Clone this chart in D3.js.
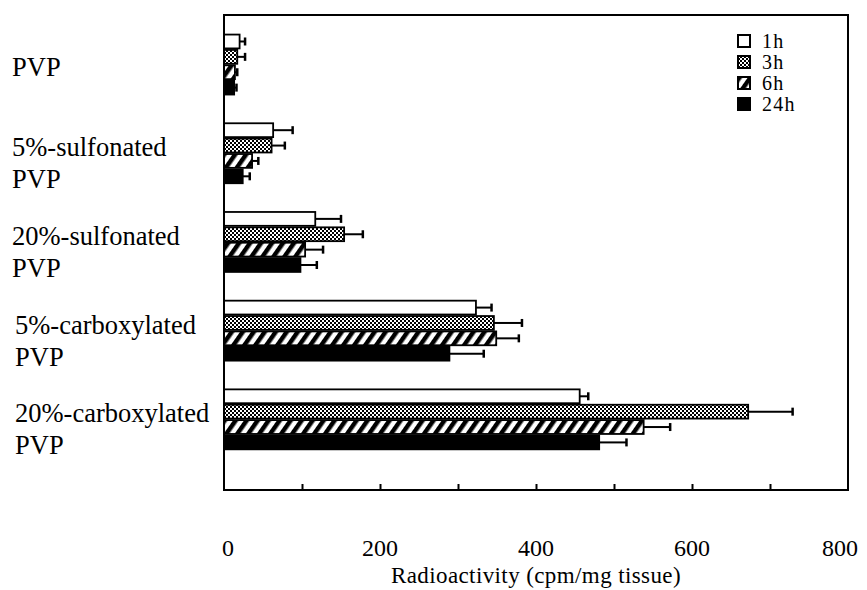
<!DOCTYPE html>
<html>
<head>
<meta charset="utf-8">
<script src="https://cdn.jsdelivr.net/npm/d3@7"></script>
<style>
  html, body { margin: 0; padding: 0; background: #fff; }
  svg { display: block; }
  text { font-family: "Liberation Serif", "DejaVu Serif", serif; fill: #000; }
</style>
</head>
<body>
<svg id="chart" width="867" height="590"></svg>
<script>
// ---- data ----
const categories = ["PVP", "5%-sulfonated PVP", "20%-sulfonated PVP", "5%-carboxylated PVP", "20%-carboxylated PVP"];
const categoryLines = [["PVP"], ["5%-sulfonated", "PVP"], ["20%-sulfonated", "PVP"], ["5%-carboxylated", "PVP"], ["20%-carboxylated", "PVP"]];
const series = ["1h", "3h", "6h", "24h"];
const values1h  = [20, 63, 117, 323, 456];
const values3h  = [17, 61, 154, 346, 672];
const values6h  = [14, 36, 104, 349, 538];
const values24h = [13, 24, 98, 289, 481];
const err1h  = [7, 25, 33, 20, 11];
const err3h  = [10, 17, 24, 36, 57];
const err6h  = [3, 8, 23, 29, 34];
const err24h = [3, 9, 21, 44, 35];
const xTicks = [0, 200, 400, 600, 800];
const xMinorTicks = [100, 200, 300, 400, 500, 600, 700];
const xTitle = "Radioactivity (cpm/mg tissue)";

const valuesBySeries = [values1h, values3h, values6h, values24h];
const errBySeries = [err1h, err3h, err6h, err24h];

const rows = [];
categories.forEach((c, i) => {
  series.forEach((s, j) => {
    rows.push({ cat: c, ser: s, v: valuesBySeries[j][i], e: errBySeries[j][i] });
  });
});

// ---- layout ----
const svg = d3.select("#chart");
const frame = { left: 224, right: 848, top: 15, bottom: 490 };

const x = d3.scaleLinear().domain([0, 800]).range([frame.left, frame.right]);
const y = d3.scaleBand().domain(categories).range([20.2, 463.7]).paddingInner(0.324).paddingOuter(0.162);
const ys = d3.scaleBand().domain(series).range([0, y.bandwidth()]).paddingInner(0.1);

// ---- patterns ----
const defs = svg.append("defs");
const p3 = defs.append("pattern").attr("id", "pat3h").attr("patternUnits", "userSpaceOnUse")
  .attr("width", 4).attr("height", 4);
p3.append("rect").attr("width", 4).attr("height", 4).attr("fill", "#fff");
p3.append("rect").attr("x", 0).attr("y", 0).attr("width", 2).attr("height", 2).attr("fill", "#000");
p3.append("rect").attr("x", 2).attr("y", 2).attr("width", 2).attr("height", 2).attr("fill", "#000");
p3.append("rect").attr("x", 1).attr("y", 1).attr("width", 1).attr("height", 1).attr("fill", "#000");

const p6 = defs.append("pattern").attr("id", "pat6h").attr("patternUnits", "userSpaceOnUse")
  .attr("width", 9).attr("height", 9).attr("patternTransform", "rotate(35)");
p6.append("rect").attr("width", 9).attr("height", 9).attr("fill", "#fff");
p6.append("rect").attr("x", 0).attr("y", 0).attr("width", 4.5).attr("height", 9).attr("fill", "#000");

const fills = { "1h": "#fff", "3h": "url(#pat3h)", "6h": "url(#pat6h)", "24h": "#000" };

// ---- bars ----
const g = svg.append("g");
g.selectAll("rect.bar").data(rows).join("rect")
  .attr("class", "bar")
  .attr("x", x(0))
  .attr("y", d => y(d.cat) + ys(d.ser))
  .attr("width", d => x(d.v) - x(0))
  .attr("height", ys.bandwidth())
  .attr("fill", d => fills[d.ser])
  .attr("stroke", "#000")
  .attr("stroke-width", 1.8);

// ---- error bars ----
const eg = g.selectAll("g.err").data(rows).join("g").attr("class", "err");
eg.append("line")
  .attr("x1", d => x(d.v)).attr("x2", d => x(d.v + d.e))
  .attr("y1", d => y(d.cat) + ys(d.ser) + ys.bandwidth() / 2)
  .attr("y2", d => y(d.cat) + ys(d.ser) + ys.bandwidth() / 2)
  .attr("stroke", "#000").attr("stroke-width", 2);
eg.append("line")
  .attr("x1", d => x(d.v + d.e)).attr("x2", d => x(d.v + d.e))
  .attr("y1", d => y(d.cat) + ys(d.ser) + ys.bandwidth() / 2 - 4)
  .attr("y2", d => y(d.cat) + ys(d.ser) + ys.bandwidth() / 2 + 4)
  .attr("stroke", "#000").attr("stroke-width", 2.5);

// ---- frame ----
svg.append("rect")
  .attr("x", frame.left).attr("y", frame.top)
  .attr("width", frame.right - frame.left).attr("height", frame.bottom - frame.top)
  .attr("fill", "none").attr("stroke", "#000").attr("stroke-width", 2);

// ---- x axis (ticks inward) ----
const xAxis = d3.axisBottom(x).tickValues(xMinorTicks).tickSize(-6).tickFormat("");
const ax = svg.append("g").attr("transform", `translate(0,${frame.bottom})`).call(xAxis);
ax.select(".domain").remove();
ax.selectAll(".tick line").attr("stroke", "#000").attr("stroke-width", 2);

svg.append("g").selectAll("text").data(xTicks).join("text")
  .attr("x", d => x(d) + (d === 0 ? 4 : (d === 800 ? -8 : 0)))
  .attr("y", 556)
  .attr("text-anchor", "middle")
  .attr("font-size", 24)
  .text(d => d);

svg.append("text")
  .attr("x", (frame.left + frame.right) / 2)
  .attr("y", 583)
  .attr("text-anchor", "middle")
  .attr("font-size", 23)
  .attr("letter-spacing", 0.4)
  .text(xTitle);

// ---- category labels ----
const lg = svg.append("g");
categories.forEach((c, i) => {
  const lines = categoryLines[i];
  const t = lg.append("text").attr("font-size", 26.5);
  const base = lines.length === 1 ? y(c) + 41 : y(c) + 33;
  lines.forEach((ln, k) => {
    t.append("tspan").attr("x", i >= 3 ? 15 : 12).attr("y", base + k * 32).text(ln);
  });
});

// ---- legend ----
const leg = svg.append("g");
series.forEach((s, j) => {
  const yy = 35 + j * 21;
  leg.append("rect").attr("x", 738).attr("y", yy).attr("width", 12).attr("height", 12)
    .attr("fill", fills[s]).attr("stroke", "#000").attr("stroke-width", 2);
  leg.append("text").attr("x", 762).attr("y", yy + 13).attr("font-size", 20)
    .attr("letter-spacing", 1.2).text(s);
});
</script>
</body>
</html>
